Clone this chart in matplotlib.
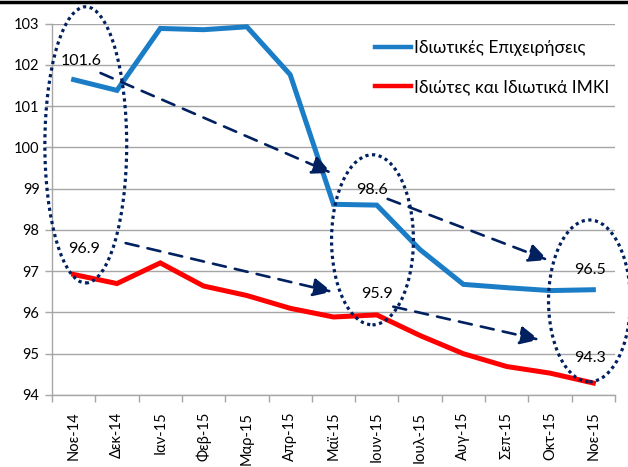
import matplotlib
matplotlib.use("Agg")
import matplotlib.pyplot as plt
from matplotlib.patches import Ellipse
from matplotlib.lines import Line2D

months = ["Νοε-14", "Δεκ-14", "Ιαν-15", "Φεβ-15", "Μαρ-15", "Απρ-15", "Μαϊ-15",
          "Ιουν-15", "Ιουλ-15", "Αυγ-15", "Σεπ-15", "Οκτ-15", "Νοε-15"]
business = [101.64, 101.38, 102.88, 102.85, 102.92, 101.76, 98.62,
            98.60, 97.52, 96.68, 96.60, 96.53, 96.55]
households = [96.92, 96.70, 97.20, 96.64, 96.41, 96.10, 95.89,
              95.94, 95.44, 95.00, 94.69, 94.53, 94.29]
series_names = ["Ιδιωτικές Επιχειρήσεις", "Ιδιώτες και Ιδιωτικά ΙΜΚΙ"]

labels = [("101.6", 0.18, 102.08), ("96.9", 0.25, 97.54), ("98.6", 6.88, 98.97),
          ("95.9", 7.00, 96.45), ("96.5", 11.93, 97.03), ("94.3", 11.93, 94.89)]
arrows = [((0.62, 101.80), (5.95, 99.38)), ((1.20, 97.68), (5.97, 96.50)),
          ((7.25, 98.75), (10.95, 97.27)), ((7.38, 96.14), (10.75, 95.34))]
ellipses = [((0.28, 100.06), 1.89, 6.69), ((6.90, 97.76), 1.89, 4.12),
            ((11.91, 96.28), 1.89, 3.92)]

plt.rcParams['font.family'] = ['Lato', 'Open Sans', 'DejaVu Sans']

BLUE = "#1A7DC6"
RED = "#FF0000"
NAVY = "#002060"
GRID = "#A6A6A6"

fig = plt.figure(figsize=(6.28, 4.67), dpi=100)
ax = fig.add_axes([52/628, 1-395/467, (615-52)/628, (395-23.5)/467])

x = list(range(len(months)))
ax.plot(x, business, color=BLUE, lw=3.6, solid_joinstyle='miter', label=series_names[0], zorder=3)
ax.plot(x, households, color=RED, lw=3.6, solid_joinstyle='miter', label=series_names[1], zorder=3)

ax.set_xlim(-0.5, len(months) - 0.5)
ax.set_ylim(94, 103)
ax.set_yticks(range(94, 104))
ax.set_xticks(x)
ax.set_xticklabels(months, rotation=90, fontsize=10.5, va='top')
ax.set_xticks([i + 0.5 for i in range(-1, len(months))], minor=True)
ax.tick_params(axis='x', which='major', length=0, pad=12)
ax.tick_params(axis='x', which='minor', length=5, color=GRID, width=1)
ax.tick_params(axis='y', length=5, color=GRID, width=1, labelsize=10.5, pad=4)
ax.grid(axis='y', color=GRID, lw=1)
ax.set_axisbelow(True)
for s in ['top', 'right']:
    ax.spines[s].set_visible(False)
for s in ['left', 'bottom']:
    ax.spines[s].set_color(GRID)
    ax.spines[s].set_linewidth(1)

for (cx, cy), w, h in ellipses:
    e = Ellipse((cx, cy), w, h, fill=False, edgecolor=NAVY, lw=2.3,
                linestyle=(0, (1, 1.1)), clip_on=False, zorder=4)
    ax.add_patch(e)

for (x0, y0), (x1, y1) in arrows:
    ax.annotate("", xy=(x1, y1), xytext=(x0, y0),
                arrowprops=dict(arrowstyle="-|>,head_length=1.15,head_width=0.55",
                                linestyle=(0, (5, 3.5)), lw=1.9, color=NAVY,
                                shrinkA=0, shrinkB=0), zorder=5)

for t, lx, ly in labels:
    ax.text(lx, ly, t, ha='center', va='center', fontsize=11.5, color='black', zorder=6)

leg = ax.legend(loc='upper left', bbox_to_anchor=(366/628, 1-31/467),
                bbox_transform=fig.transFigure, frameon=False, fontsize=12.5,
                handlelength=2.1, handletextpad=0.15, labelspacing=1.35, borderpad=0)
for ln in leg.get_lines():
    ln.set_linewidth(3.2)

fig.add_artist(Line2D([0, 1], [1 - 1.5/467, 1 - 1.5/467], transform=fig.transFigure,
                      color='black', lw=2.5))

fig.savefig("out.png", dpi=100)
